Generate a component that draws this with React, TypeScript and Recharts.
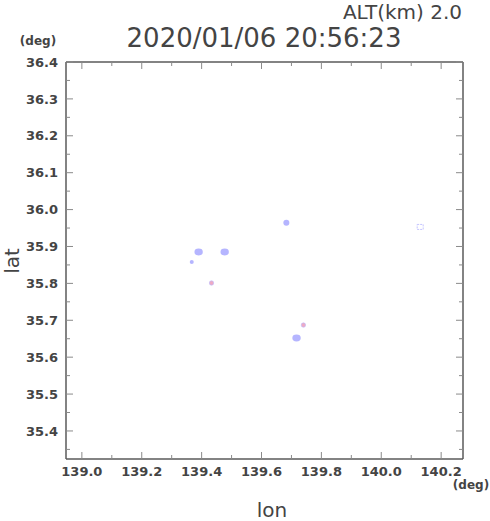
import { Scatter, ScatterChart, XAxis, YAxis } from "recharts";

const lonTicks = [139.0, 139.1, 139.2, 139.3, 139.4, 139.5, 139.6, 139.7, 139.8, 139.9, 140.0, 140.1, 140.2];
const latTicks = [
    35.35, 35.4, 35.45, 35.5, 35.55, 35.6, 35.65, 35.7, 35.75, 35.8, 35.85, 35.9,
    35.95, 36.0, 36.05, 36.1, 36.15, 36.2, 36.25, 36.3, 36.35, 36.4,
];
const lonDomain = [138.947, 140.273];
const latDomain = [35.324, 36.4];

const echoLarge = [
    { lon: 139.39, lat: 35.885 },
    { lon: 139.477, lat: 35.885 },
    { lon: 139.717, lat: 35.652 },
];
const echoMid = [{ lon: 139.683, lat: 35.964 }];
const echoSmall = [{ lon: 139.367, lat: 35.858 }];
const echoPink = [
    { lon: 139.433, lat: 35.801 },
    { lon: 139.74, lat: 35.687 },
];
const echoFaint = [{ lon: 140.13, lat: 35.953 }];

const FRAME = "#5a5a5a";
const TICK = "#8a8a8a";
const TEXT = "#444";

const isMajorLon = (v: number) => Math.round(v * 10) % 2 === 0;
const isMajorLat = (v: number) => Math.round(v * 100) % 10 === 0;

const labelStyle = {
    fontFamily: "DejaVu Sans",
    fontWeight: "bold" as const,
    fontSize: 13,
    fill: TEXT,
};

function LonTick(props: any) {
    const { x, y, payload, side } = props;
    const v = payload.value;
    const len = isMajorLon(v) ? 7 : 4;
    if (side === "top") {
        return <line x1={x} x2={x} y1={y} y2={y + len} stroke={TICK} />;
    }
    return (
        <g>
            <line x1={x} x2={x} y1={y} y2={y - len} stroke={TICK} />
            {isMajorLon(v) && (
                <text x={x} y={y + 8} dy="0.71em" textAnchor="middle" style={labelStyle}>
                    {v.toFixed(1)}
                </text>
            )}
        </g>
    );
}

function LatTick(props: any) {
    const { x, y, payload, side } = props;
    const v = payload.value;
    const len = isMajorLat(v) ? 7 : 4;
    if (side === "right") {
        return <line x1={x} x2={x - len} y1={y} y2={y} stroke={TICK} />;
    }
    return (
        <g>
            <line x1={x} x2={x + len} y1={y} y2={y} stroke={TICK} />
            {isMajorLat(v) && (
                <text x={x - 8} y={y} dy="0.36em" textAnchor="end" style={labelStyle}>
                    {v.toFixed(1)}
                </text>
            )}
        </g>
    );
}

const LargeDot = (p: any) => (
    <ellipse cx={p.cx} cy={p.cy} rx={4.2} ry={3.4} fill="#a8a8ff" fillOpacity={0.85} />
);
const MidDot = (p: any) => (
    <circle cx={p.cx} cy={p.cy} r={3} fill="#a8a8ff" fillOpacity={0.85} />
);
const SmallDot = (p: any) => (
    <circle cx={p.cx} cy={p.cy} r={2} fill="#a8a8ff" fillOpacity={0.85} />
);
const PinkDot = (p: any) => (
    <circle cx={p.cx} cy={p.cy} r={2.2} fill="#eeaac4" stroke="#b8b8ff" strokeWidth={0.6} />
);
const FaintDot = (p: any) => (
    <rect
        x={p.cx - 3}
        y={p.cy - 2.5}
        width={6}
        height={5}
        fill="none"
        stroke="#c4c4ff"
        strokeDasharray="2 1"
    />
);

export default function App() {
    return (
        <div style={{ position: "absolute", left: 0, top: 0, width: 490, height: 521, background: "#fff" }}>
            <ScatterChart
                width={490}
                height={521}
                margin={{ top: 61, right: 26, bottom: 61, left: 65 }}
            >
                <XAxis
                    xAxisId="main"
                    type="number"
                    dataKey="lon"
                    domain={lonDomain}
                    allowDataOverflow
                    ticks={lonTicks}
                    interval={0}
                    height={1}
                    tickSize={0}
                    tickMargin={0}
                    tickLine={false}
                    axisLine={{ stroke: FRAME, strokeWidth: 1.5 }}
                    tick={<LonTick side="bottom" />}
                />
                <XAxis
                    xAxisId="top"
                    orientation="top"
                    type="number"
                    dataKey="lon"
                    domain={lonDomain}
                    allowDataOverflow
                    ticks={lonTicks}
                    interval={0}
                    height={1}
                    tickSize={0}
                    tickMargin={0}
                    tickLine={false}
                    axisLine={{ stroke: FRAME, strokeWidth: 1.5 }}
                    tick={<LonTick side="top" />}
                />
                <YAxis
                    yAxisId="main"
                    type="number"
                    dataKey="lat"
                    domain={latDomain}
                    allowDataOverflow
                    ticks={latTicks}
                    interval={0}
                    width={1}
                    tickSize={0}
                    tickMargin={0}
                    tickLine={false}
                    axisLine={{ stroke: FRAME, strokeWidth: 1.5 }}
                    tick={<LatTick side="left" />}
                />
                <YAxis
                    yAxisId="right"
                    orientation="right"
                    type="number"
                    dataKey="lat"
                    domain={latDomain}
                    allowDataOverflow
                    ticks={latTicks}
                    interval={0}
                    width={1}
                    tickSize={0}
                    tickMargin={0}
                    tickLine={false}
                    axisLine={{ stroke: FRAME, strokeWidth: 1.5 }}
                    tick={<LatTick side="right" />}
                />
                <Scatter xAxisId="main" yAxisId="main" data={echoLarge} shape={LargeDot} isAnimationActive={false} />
                <Scatter xAxisId="main" yAxisId="main" data={echoMid} shape={MidDot} isAnimationActive={false} />
                <Scatter xAxisId="main" yAxisId="main" data={echoSmall} shape={SmallDot} isAnimationActive={false} />
                <Scatter xAxisId="main" yAxisId="main" data={echoPink} shape={PinkDot} isAnimationActive={false} />
                <Scatter xAxisId="main" yAxisId="main" data={echoFaint} shape={FaintDot} isAnimationActive={false} />
            </ScatterChart>
            <svg
                width={490}
                height={521}
                style={{ position: "absolute", left: 0, top: 0, pointerEvents: "none" }}
            >
                <g fontFamily="DejaVu Sans" fill={TEXT}>
                    <text x={462} y={12} dominantBaseline="central" textAnchor="end" fontSize={20}>
                        ALT(km) 2.0
                    </text>
                    <text x={264} y={38} dominantBaseline="central" textAnchor="middle" fontSize={26}>
                        2020/01/06 20:56:23
                    </text>
                    <text x={38} y={41} dominantBaseline="central" textAnchor="middle" fontSize={12} fontWeight="bold">
                        (deg)
                    </text>
                    <text x={471} y={485} dominantBaseline="central" textAnchor="middle" fontSize={12} fontWeight="bold">
                        (deg)
                    </text>
                    <text x={272} y={510} dominantBaseline="central" textAnchor="middle" fontSize={20}>
                        lon
                    </text>
                    <text
                        x={12}
                        y={261}
                        dominantBaseline="central"
                        textAnchor="middle"
                        fontSize={20}
                        transform="rotate(-90 12 261)"
                    >
                        lat
                    </text>
                </g>
            </svg>
        </div>
    );
}
